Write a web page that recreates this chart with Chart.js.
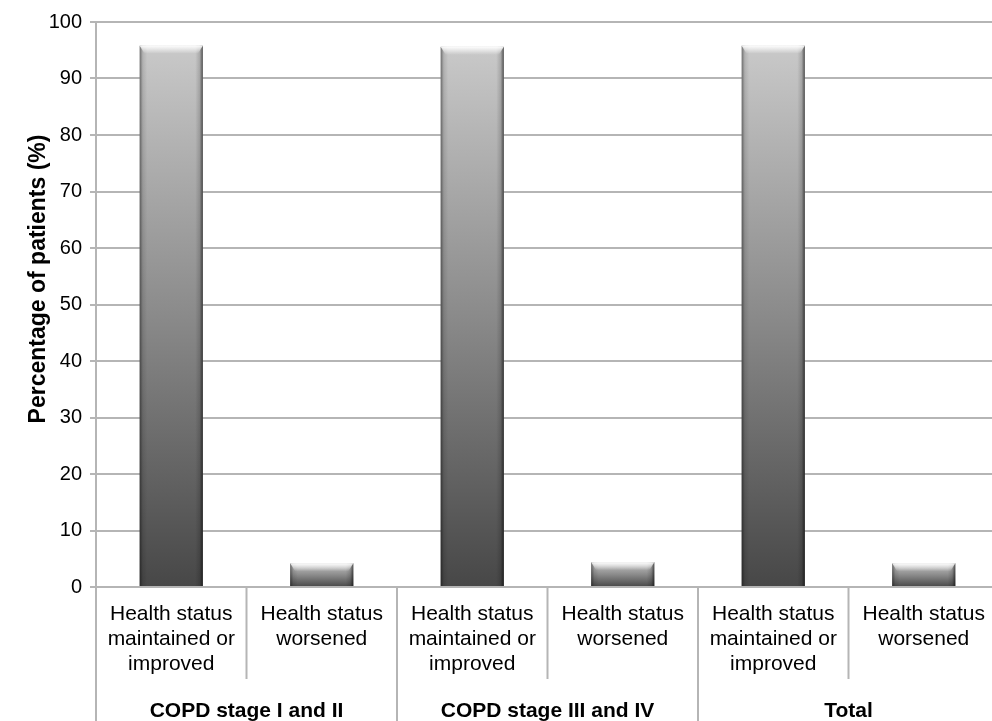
<!DOCTYPE html>
<html>
<head>
<meta charset="utf-8">
<script src="https://cdn.jsdelivr.net/npm/chart.js@4.4.0/dist/chart.umd.min.js"></script>
<style>
html,body{margin:0;padding:0;background:#fff;overflow:hidden;}
#wrap{width:999px;height:721px;position:relative;}
</style>
</head>
<body>
<div id="wrap"><canvas id="c"></canvas></div>
<script>
const groupLabels = ["COPD stage I and II", "COPD stage III and IV", "Total"];
const subLabels = [["Health status", "maintained or", "improved"], ["Health status", "worsened"]];
const categories = [subLabels[0], subLabels[1], subLabels[0], subLabels[1], subLabels[0], subLabels[1]];
const values = [95.8, 4.2, 95.6, 4.4, 95.8, 4.2];
const yMin = 0, yMax = 100, yStep = 10;
const yTitle = "Percentage of patients (%)";

const FONT = "'Liberation Sans', Arial, Helvetica, sans-serif";
const GRID = "#b5b5b5";

function barGradient(ctx) {
  const chart = ctx.chart;
  const area = chart.chartArea;
  if (!area || ctx.raw === undefined) return "#777";
  const ys = chart.scales.y;
  const top = ys.getPixelForValue(ctx.raw);
  const bottom = ys.getPixelForValue(0);
  const g = chart.ctx.createLinearGradient(0, top, 0, bottom);
  g.addColorStop(0, "#c9c9c9");
  g.addColorStop(0.5, "#8a8a8a");
  g.addColorStop(1, "#474747");
  return g;
}

const decor = {
  id: "decor",
  afterDatasetsDraw(chart) {
    const c = chart.ctx;
    const meta = chart.getDatasetMeta(0);
    meta.data.forEach(bar => {
      const p = bar.getProps(["x", "y", "base", "width"], true);
      const l = p.x - p.width / 2, r = p.x + p.width / 2, t = p.y, b = p.base;
      c.save();
      const hg = c.createLinearGradient(l, 0, r, 0);
      hg.addColorStop(0, "rgba(0,0,0,0.45)");
      hg.addColorStop(0.05, "rgba(0,0,0,0.1)");
      hg.addColorStop(0.12, "rgba(0,0,0,0)");
      hg.addColorStop(0.88, "rgba(0,0,0,0)");
      hg.addColorStop(0.95, "rgba(0,0,0,0.15)");
      hg.addColorStop(1, "rgba(0,0,0,0.6)");
      c.fillStyle = hg;
      c.fillRect(l, t, r - l, b - t);
      const vh = Math.min(8, (b - t) / 2);
      const tg = c.createLinearGradient(0, t, 0, t + vh);
      tg.addColorStop(0, "rgba(255,255,255,0.95)");
      tg.addColorStop(1, "rgba(255,255,255,0)");
      c.fillStyle = tg;
      c.beginPath();
      c.moveTo(l, t);
      c.lineTo(r, t);
      c.lineTo(r - 5, t + vh);
      c.lineTo(l + 5, t + vh);
      c.closePath();
      c.fill();
      c.restore();
    });
  },
  afterDraw(chart) {
    const c = chart.ctx;
    const xs = chart.scales.x;
    const area = chart.chartArea;
    const H = chart.height;
    c.save();
    c.strokeStyle = GRID;
    c.lineWidth = 2;
    for (let i = 0; i <= categories.length; i++) {
      const x = xs.getPixelForValue(i - 0.5);
      const long = (i % 2 === 0);
      c.beginPath();
      c.moveTo(x, area.bottom);
      c.lineTo(x, long ? H : area.bottom + 92);
      c.stroke();
    }
    c.fillStyle = "#000";
    c.textAlign = "center";
    c.textBaseline = "middle";
    c.font = "21px " + FONT;
    categories.forEach((lines, i) => {
      const x = xs.getPixelForValue(i);
      lines.forEach((s, k) => c.fillText(s, x, area.bottom + 27 + k * 25));
    });
    c.font = "bold 21px " + FONT;
    groupLabels.forEach((s, g) => {
      const x = xs.getPixelForValue(g * 2 + 0.5);
      c.fillText(s, x, area.bottom + 124);
    });
    // y axis title
    c.save();
    c.translate(45, area.top + 257);
    c.rotate(-Math.PI / 2);
    c.textBaseline = "alphabetic";
    c.font = "bold 23px " + FONT;
    c.fillText(yTitle, 0, 0);
    c.restore();
    c.restore();
  }
};

new Chart(document.getElementById("c"), {
  type: "bar",
  data: {
    labels: categories.map((l, i) => i),
    datasets: [{
      data: values,
      backgroundColor: barGradient,
      borderWidth: 0,
      categoryPercentage: 1,
      barPercentage: 0.42
    }]
  },
  options: {
    responsive: true,
    maintainAspectRatio: false,
    animation: false,
    events: [],
    layout: { padding: { left: 0, right: 0, top: 22, bottom: 126 } },
    plugins: { legend: { display: false }, tooltip: { enabled: false } },
    scales: {
      x: {
        ticks: { display: false },
        grid: { display: false },
        border: { display: false }
      },
      y: {
        min: yMin, max: yMax,
        ticks: { stepSize: yStep, color: "#000", font: { family: FONT, size: 20 }, padding: 8 },
        grid: { color: GRID, lineWidth: 2, tickLength: 6, drawTicks: true },
        border: { display: true, color: GRID, width: 2 },
        title: { display: false },
        afterFit(scale) { scale.width = 96; }
      }
    }
  },
  plugins: [decor]
});
</script>
</body>
</html>
